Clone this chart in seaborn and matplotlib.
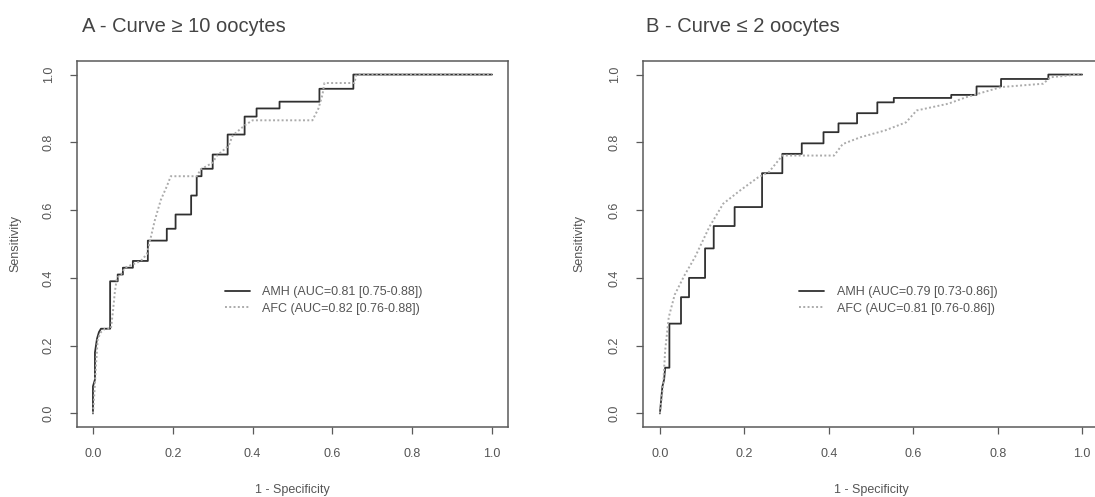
import numpy as np
import pandas as pd
import matplotlib
matplotlib.use("Agg")
import matplotlib.pyplot as plt
import seaborn as sns

# ---------------- data ----------------
a_amh_fpr = [0, 0, 0.005, 0.005, 0.01, 0.015, 0.02, 0.043, 0.043, 0.062, 0.062, 0.075, 0.075,
             0.1, 0.1, 0.1375, 0.1375, 0.185, 0.185, 0.207, 0.207, 0.246, 0.246, 0.26, 0.26,
             0.272, 0.272, 0.30, 0.30, 0.3375, 0.3375, 0.38, 0.38, 0.41, 0.41, 0.4675, 0.4675,
             0.5675, 0.5675, 0.6525, 0.6525, 1.0]
a_amh_tpr = [0, 0.08, 0.10, 0.18, 0.22, 0.24, 0.25, 0.25, 0.39, 0.39, 0.41, 0.41, 0.43,
             0.43, 0.45, 0.45, 0.51, 0.51, 0.545, 0.545, 0.587, 0.587, 0.643, 0.643, 0.70,
             0.70, 0.722, 0.722, 0.764, 0.764, 0.823, 0.823, 0.876, 0.876, 0.90, 0.90, 0.92,
             0.92, 0.958, 0.958, 1.0, 1.0]

a_afc_fpr = [0, 0.003, 0.008, 0.012, 0.02, 0.03, 0.045, 0.05, 0.055, 0.06, 0.07, 0.08, 0.1,
             0.12, 0.135, 0.145, 0.155, 0.17, 0.185, 0.195, 0.26, 0.27, 0.30, 0.31, 0.34,
             0.35, 0.38, 0.40, 0.55, 0.565, 0.575, 0.58, 0.655, 0.66, 1.0]
a_afc_tpr = [0, 0.05, 0.15, 0.22, 0.24, 0.25, 0.25, 0.30, 0.36, 0.40, 0.41, 0.43, 0.44,
             0.45, 0.47, 0.52, 0.57, 0.63, 0.67, 0.70, 0.70, 0.72, 0.74, 0.76, 0.79,
             0.82, 0.85, 0.865, 0.865, 0.90, 0.94, 0.975, 0.975, 1.0, 1.0]

b_amh_fpr = [0, 0.003, 0.006, 0.01, 0.0125, 0.0225, 0.0225, 0.05, 0.05, 0.069, 0.069, 0.107,
             0.107, 0.1275, 0.1275, 0.177, 0.177, 0.242, 0.242, 0.29, 0.29, 0.336, 0.336,
             0.3875, 0.3875, 0.423, 0.423, 0.467, 0.467, 0.515, 0.515, 0.554, 0.554, 0.69,
             0.69, 0.75, 0.75, 0.808, 0.808, 0.92, 0.92, 1.0]
b_amh_tpr = [0, 0.04, 0.08, 0.10, 0.135, 0.135, 0.265, 0.265, 0.343, 0.343, 0.40, 0.40,
             0.487, 0.487, 0.553, 0.553, 0.609, 0.609, 0.709, 0.709, 0.766, 0.766, 0.797,
             0.797, 0.83, 0.83, 0.856, 0.856, 0.886, 0.886, 0.918, 0.918, 0.931, 0.931,
             0.94, 0.94, 0.965, 0.965, 0.987, 0.987, 1.0, 1.0]

b_afc_fpr = [0, 0.008, 0.0125, 0.021, 0.035, 0.058, 0.083, 0.117, 0.15, 0.19, 0.233, 0.258,
             0.29, 0.4125, 0.433, 0.475, 0.533, 0.583, 0.608, 0.683, 0.725, 0.808, 0.908,
             0.925, 0.99, 1.0]
b_afc_tpr = [0, 0.0875, 0.186, 0.284, 0.35, 0.407, 0.461, 0.55, 0.619, 0.658, 0.697, 0.712,
             0.761, 0.761, 0.795, 0.815, 0.835, 0.859, 0.894, 0.914, 0.933, 0.963, 0.973,
             0.992, 1.0, 1.0]

titles = ["A - Curve \u2265 10 oocytes", "B - Curve \u2264 2 oocytes"]
legend_a = ["AMH (AUC=0.81 [0.75-0.88])", "AFC (AUC=0.82 [0.76-0.88])"]
legend_b = ["AMH (AUC=0.79 [0.73-0.86])", "AFC (AUC=0.81 [0.76-0.86])"]
ticks = [0.0, 0.2, 0.4, 0.6, 0.8, 1.0]
tick_labels = ["0.0", "0.2", "0.4", "0.6", "0.8", "1.0"]
x_label = "1 - Specificity"
y_label = "Sensitivity"

# ---------------- style ----------------
sns.set_theme(style="white")
plt.rcParams["font.family"] = ["Liberation Sans", "DejaVu Sans"]

TXT = "#555555"
FRAME = "#5a5a5a"
AMH_C = "#303030"
AFC_C = "#ababab"

W, H = 1095, 497
fig = plt.figure(figsize=(W / 100, H / 100), dpi=100)
fig.patch.set_facecolor("white")

axA = fig.add_axes([77 / W, (H - 427) / H, 431 / W, 366 / H])
axB = fig.add_axes([643 / W, (H - 427) / H, 456 / W, 366 / H])

panels = [
    (axA, a_amh_fpr, a_amh_tpr, a_afc_fpr, a_afc_tpr, legend_a, titles[0], 82),
    (axB, b_amh_fpr, b_amh_tpr, b_afc_fpr, b_afc_tpr, legend_b, titles[1], 646),
]

for ax, f1, t1, f2, t2, leg, title, tx in panels:
    df1 = pd.DataFrame({"fpr": f1, "tpr": t1})
    df2 = pd.DataFrame({"fpr": f2, "tpr": t2})
    sns.lineplot(data=df1, x="fpr", y="tpr", sort=False, estimator=None, ax=ax,
                 color=AMH_C, linewidth=1.3, label=leg[0])
    sns.lineplot(data=df2, x="fpr", y="tpr", sort=False, estimator=None, ax=ax,
                 color=AFC_C, linewidth=1.4, linestyle=(0, (1, 1.2)), label=leg[1])
    ax.set_xlim(-0.04, 1.04)
    ax.set_ylim(-0.04, 1.04)
    ax.set_xticks(ticks)
    ax.set_xticklabels(tick_labels)
    ax.set_yticks(ticks)
    ax.set_yticklabels(tick_labels, rotation=90, va="center")
    ax.tick_params(axis="both", which="both", direction="out", length=5, width=0.9,
                   color=FRAME, labelcolor=TXT, labelsize=9, bottom=True, left=True)
    ax.tick_params(axis="x", pad=10)
    ax.tick_params(axis="y", pad=11)
    for sp in ax.spines.values():
        sp.set_color(FRAME)
        sp.set_linewidth(1.1)
        sp.set_visible(True)
    ax.set_xlabel(x_label, fontsize=9, color=TXT)
    ax.set_ylabel(y_label, fontsize=9, color=TXT)
    ax.xaxis.set_label_coords(0.5, -0.172)
    ax.xaxis.label.set_va("center")
    ax.yaxis.label.set_va("center")
    ax.grid(False)
    ax.set_facecolor("white")
    lg = ax.legend(loc="upper left", bbox_to_anchor=(0.33, 0.375),
                   bbox_transform=ax.transData, frameon=False, fontsize=9,
                   handlelength=2.0, handletextpad=1.0, labelspacing=0.35,
                   borderpad=0, borderaxespad=0)
    for t in lg.get_texts():
        t.set_color(TXT)
    fig.text(tx / W, 1 - 27 / H, title, fontsize=14.5, color="#444444",
             ha="left", va="center")

axA.yaxis.set_label_coords((15 - 77) / 431, 0.5)
axB.yaxis.set_label_coords((579 - 643) / 456, 0.5)

fig.savefig("out.png", dpi=100, facecolor="white")
